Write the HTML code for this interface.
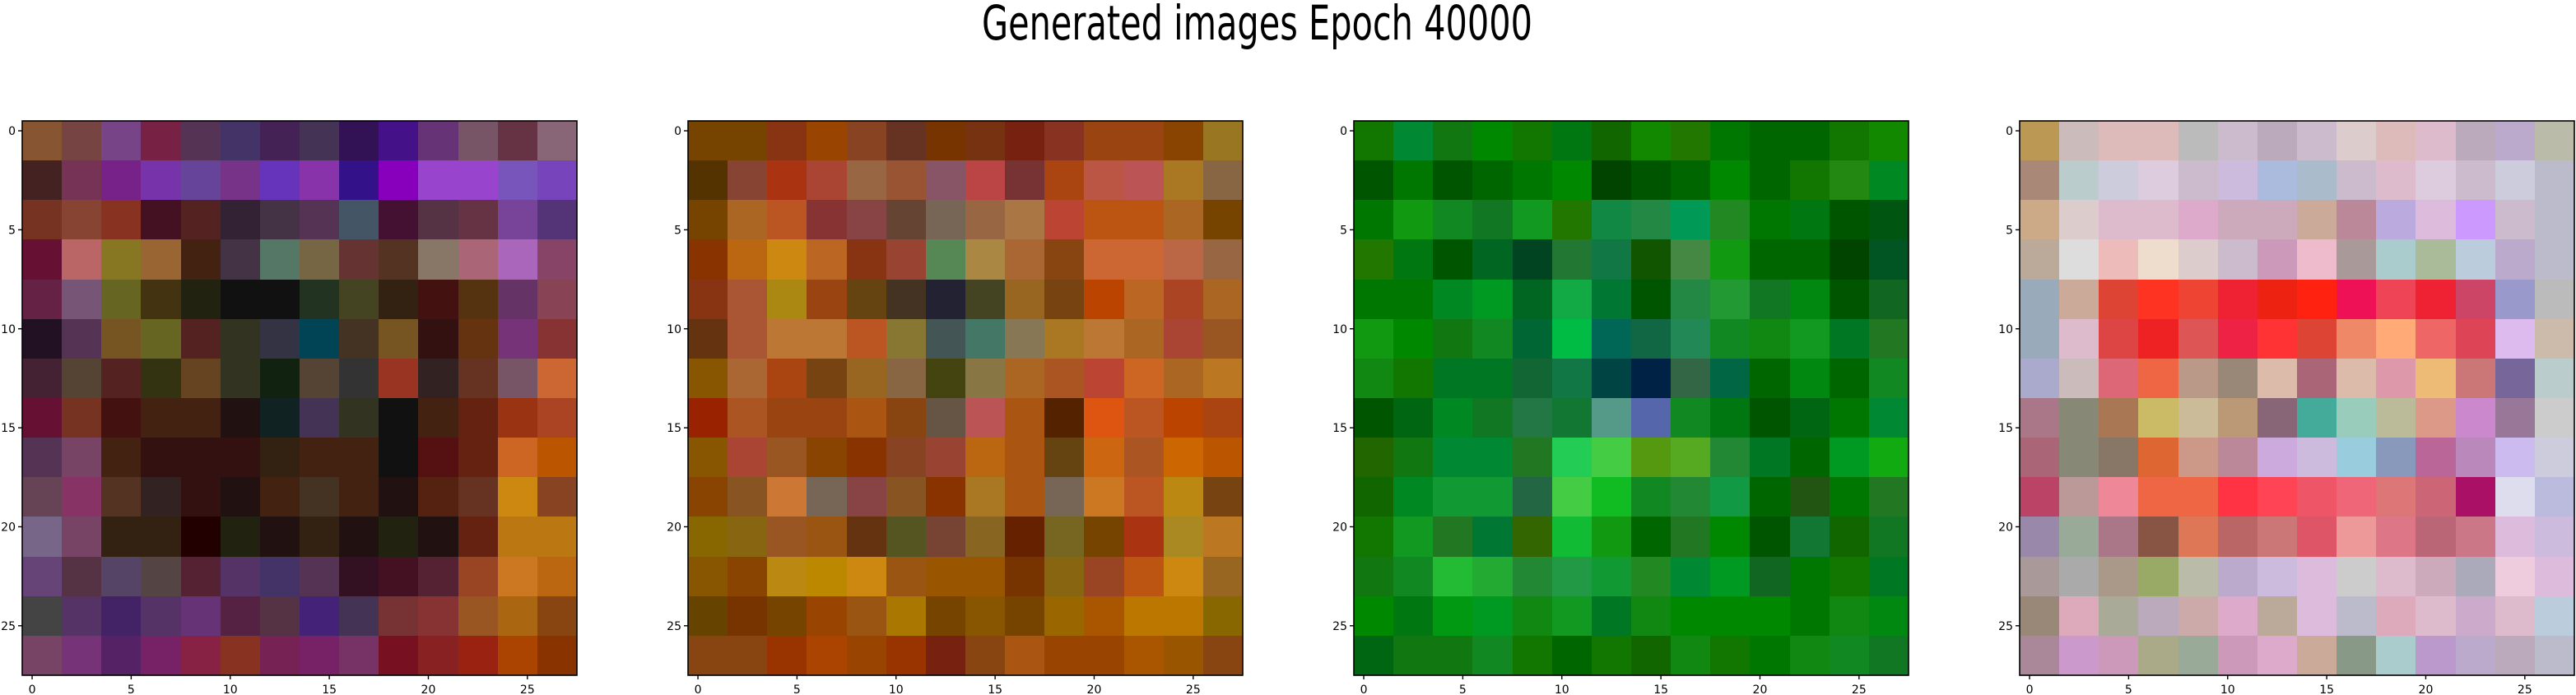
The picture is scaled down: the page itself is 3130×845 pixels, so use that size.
<!DOCTYPE html>
<html><head><meta charset="utf-8"><style>
html,body{margin:0;padding:0;background:#fff;}
svg{display:block;}
text{font-family:"DejaVu Sans","Liberation Sans",sans-serif;fill:#000;}
</style></head><body>
<svg id="fig" width="3130" height="845" viewBox="0 0 3130 845" xmlns="http://www.w3.org/2000/svg">
<text x="1193" y="48" font-size="58" textLength="669" lengthAdjust="spacingAndGlyphs">Generated images Epoch 40000</text>
</svg>
<script>
const panelColors1 = [
"#853 #744 #748 #724 #535 #436 #425 #435 #315 #418 #637 #756 #634 #867",
"#422 #735 #728 #73a #649 #738 #63b #83a #318 #80b #94c #94c #75b #74b",
"#732 #843 #832 #412 #522 #323 #434 #535 #456 #413 #534 #634 #749 #537",
"#613 #b66 #872 #963 #421 #434 #576 #764 #633 #532 #876 #a67 #a6b #846",
"#624 #757 #662 #431 #221 #111 #111 #232 #442 #321 #411 #531 #636 #845",
"#212 #535 #752 #662 #522 #332 #334 #045 #432 #752 #311 #631 #737 #833",
"#423 #543 #522 #331 #642 #332 #121 #543 #333 #932 #322 #632 #756 #c63",
"#613 #732 #411 #421 #421 #211 #122 #435 #332 #111 #421 #621 #931 #a42",
"#535 #746 #421 #311 #311 #311 #321 #421 #421 #111 #511 #621 #c62 #b50",
"#645 #836 #532 #322 #311 #211 #421 #432 #421 #211 #521 #632 #c81 #842",
"#768 #746 #321 #321 #200 #221 #211 #321 #211 #221 #211 #621 #b71 #b71",
"#647 #534 #546 #544 #523 #536 #436 #535 #312 #412 #523 #942 #c72 #b61",
"#444 #536 #426 #536 #637 #524 #534 #427 #435 #733 #833 #952 #a61 #841",
"#746 #737 #526 #726 #824 #832 #725 #726 #736 #712 #822 #921 #a40 #830"];
const panelColors2 = [
"#740 #740 #831 #940 #842 #632 #730 #731 #721 #832 #941 #941 #840 #972",
"#530 #843 #a31 #a43 #964 #953 #856 #b44 #733 #a41 #b54 #b55 #a72 #864",
"#740 #a62 #b52 #833 #844 #643 #765 #964 #a74 #b43 #b51 #b51 #a62 #740",
"#830 #b61 #c81 #b62 #831 #943 #585 #a84 #a63 #841 #c63 #c63 #b64 #964",
"#831 #a53 #a81 #941 #641 #432 #223 #442 #962 #741 #b40 #b62 #a42 #a62",
"#631 #a53 #b73 #b73 #b52 #873 #455 #476 #875 #a72 #b73 #a62 #a43 #952",
"#850 #a63 #a41 #741 #962 #864 #441 #874 #a62 #a52 #b43 #c62 #a62 #b72",
"#920 #a52 #941 #941 #a51 #841 #654 #b55 #a51 #520 #d51 #b52 #b40 #a41",
"#850 #a43 #952 #840 #830 #842 #943 #b61 #a51 #641 #c61 #a52 #c60 #b50",
"#840 #852 #c73 #765 #844 #852 #830 #a72 #a51 #765 #c72 #b52 #b81 #741",
"#860 #861 #952 #951 #631 #552 #743 #862 #620 #762 #740 #a31 #a82 #b72",
"#850 #840 #b81 #b80 #c81 #951 #950 #950 #730 #861 #942 #b51 #c81 #962",
"#640 #730 #740 #940 #951 #a70 #740 #850 #740 #960 #a50 #b70 #b70 #860",
"#841 #841 #930 #a40 #940 #930 #721 #841 #a51 #940 #940 #a50 #950 #841"];
const panelColors3 = [
"#170 #083 #171 #080 #170 #071 #160 #180 #270 #070 #060 #060 #170 #180",
"#050 #070 #050 #060 #070 #080 #040 #050 #060 #080 #060 #170 #281 #082",
"#070 #191 #182 #172 #192 #270 #184 #284 #095 #282 #070 #071 #050 #051",
"#270 #071 #050 #062 #042 #273 #174 #150 #484 #191 #060 #060 #040 #052",
"#070 #070 #082 #092 #062 #1a4 #073 #050 #284 #293 #172 #081 #050 #162",
"#191 #080 #171 #182 #063 #0b4 #065 #164 #285 #182 #181 #192 #072 #272",
"#181 #170 #072 #072 #163 #174 #044 #024 #364 #064 #060 #081 #060 #182",
"#050 #061 #082 #172 #274 #173 #598 #56a #182 #071 #050 #061 #070 #083",
"#260 #171 #083 #083 #272 #2c5 #4c4 #591 #5a2 #283 #072 #060 #092 #1a1",
"#160 #082 #193 #193 #264 #4c4 #1b2 #182 #283 #194 #060 #251 #070 #272",
"#170 #192 #272 #073 #360 #1b3 #191 #060 #272 #080 #050 #173 #160 #172",
"#171 #182 #2b3 #2a3 #283 #294 #193 #282 #083 #092 #162 #070 #170 #072",
"#080 #071 #091 #092 #181 #192 #072 #181 #080 #080 #080 #070 #181 #081",
"#061 #171 #171 #182 #170 #060 #170 #160 #181 #170 #070 #181 #182 #172"];
const panelColors4 = [
"#b95 #cbb #dbb #dbb #bbb #cbc #bab #cbc #dcc #dbb #dbc #bab #bac #bba",
"#a87 #bcc #ccd #dcd #cbc #cbd #abd #abc #cbc #dbc #dcd #cbc #ccd #bbc",
"#ca8 #dcc #dbc #dbc #dac #cab #cab #ca9 #b89 #bad #dbd #c9f #cbc #bbc",
"#ba9 #ddd #ebb #edc #dcc #cbc #c9b #ebc #a99 #acc #ab9 #bcd #bac #bbc",
"#9ab #ca9 #d43 #f32 #e43 #e23 #e21 #f21 #e15 #e45 #e23 #c46 #99c #bbb",
"#9ab #dbc #d44 #e22 #d55 #e24 #f33 #d43 #e86 #fa7 #e66 #d45 #dbe #cba",
"#aac #cbb #d67 #e64 #b98 #987 #dba #a67 #dba #d9a #eb7 #c77 #769 #bcc",
"#a78 #887 #a75 #cb6 #cb9 #b97 #867 #4a9 #9cb #bb9 #d98 #c8c #979 #ccc",
"#a67 #887 #876 #d63 #c98 #b89 #cad #cbd #9cd #89b #b69 #b8b #cbe #ccd",
"#b46 #b99 #e89 #e64 #e64 #f34 #f45 #e56 #e67 #d77 #c67 #a16 #dde #bbd",
"#98a #9a9 #a78 #854 #d75 #b66 #c77 #d56 #e99 #d78 #b67 #c78 #dbd #cbd",
"#a99 #aaa #a98 #9a6 #bba #bac #cbd #dbd #ccc #dbc #cab #aab #ecd #dbd",
"#987 #dab #aa9 #bab #caa #dac #ba9 #dbd #bbc #dab #dbc #cac #dbc #bcd",
"#a89 #c9c #c9b #aa8 #9a9 #c9b #dac #ca9 #898 #acc #b9c #bac #bab #bbc"];
const tickValues = [0, 5, 10, 15, 20, 25];
const tickLabels = ["0", "5", "10", "15", "20", "25"];
const imageSize = 28;

const NS = "http://www.w3.org/2000/svg";
const svg = document.getElementById("fig");
const panels = [panelColors1, panelColors2, panelColors3, panelColors4];
const lefts = [27, 836, 1645, 2454];
const top0 = 147, side = 674;

function mk(tag, attrs, parent) {
  const e = document.createElementNS(NS, tag);
  for (const k in attrs) e.setAttribute(k, attrs[k]);
  parent.appendChild(e);
  return e;
}

panels.forEach((grid, pi) => {
  const L = lefts[pi];
  const g = mk("g", {}, svg);
  
  
  const scale = side / imageSize;
  const xPix = v => L + v * scale;
  const yPix = v => top0 + v * scale;
  const rows = grid.map(r => r.split(" "));
  const cellsPer = imageSize / rows.length;
  rows.forEach((row, ri) => {
    row.forEach((c, ci) => {
      const x0 = Math.round(xPix(ci * cellsPer)), x1 = Math.round(xPix((ci + 1) * cellsPer));
      const y0 = Math.round(yPix(ri * cellsPer)), y1 = Math.round(yPix((ri + 1) * cellsPer));
      const r = mk("rect", {x: x0, y: y0, width: x1 - x0, height: y1 - y0, fill: c, "shape-rendering": "crispEdges"}, g);
      
      
    });
  });
  const frame = mk("rect", {x: L, y: top0, width: side, height: side, fill: "none", stroke: "#000", "stroke-width": 1.6}, g);
  
  
  tickValues.forEach((v, i) => {
    const cx = xPix(v + 0.5), cy = yPix(v + 0.5);
    const xt = mk("line", {x1: cx, x2: cx, y1: top0 + side, y2: top0 + side + 5, stroke: "#000", "stroke-width": 1.4}, g);
    
    
    const xl = mk("text", {x: cx, y: 843, "font-size": 14, "text-anchor": "middle"}, g);
    xl.textContent = tickLabels[i];
    
    
    const yt = mk("line", {x1: L - 5, x2: L, y1: cy, y2: cy, stroke: "#000", "stroke-width": 1.4}, g);
    
    
    const yl = mk("text", {x: L - 8, y: cy + 5, "font-size": 14, "text-anchor": "end"}, g);
    yl.textContent = tickLabels[i];
    
    
  });
});
</script>
</body></html>
